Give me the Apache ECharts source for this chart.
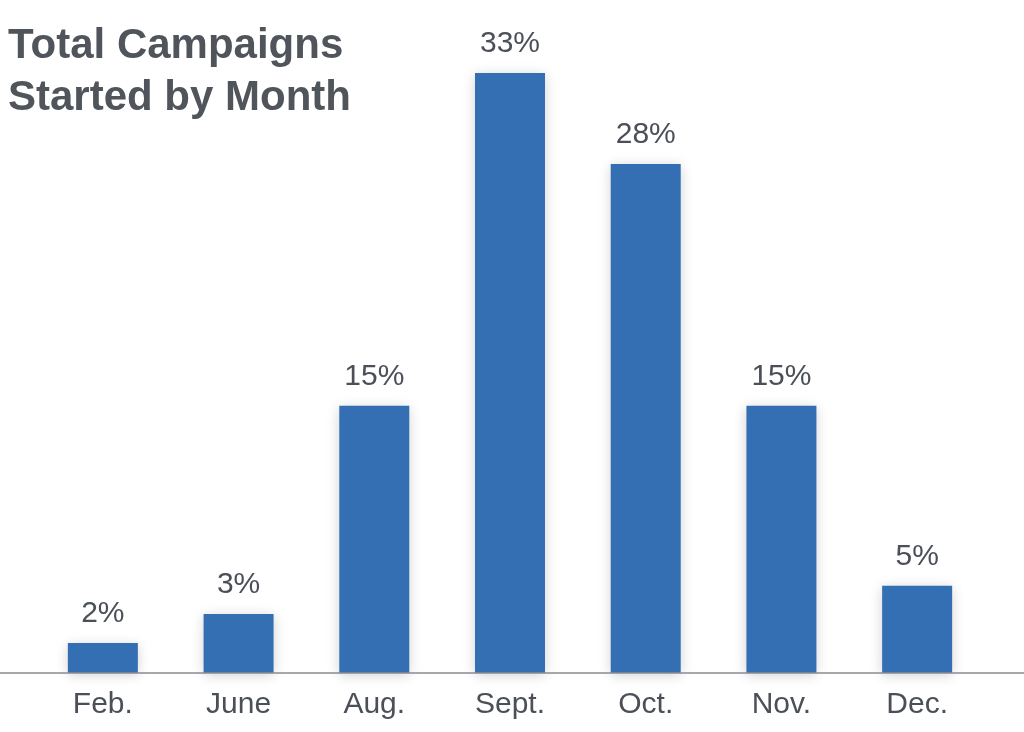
<!DOCTYPE html>
<html>
<head>
<meta charset="utf-8">
<script src="https://cdn.jsdelivr.net/npm/echarts@6/dist/echarts.min.js"></script>
<style>html,body{margin:0;padding:0;background:#fff}#c{width:1024px;height:732px}</style>
</head>
<body>
<div id="c"></div>
<script>
const titleText = 'Total Campaigns\nStarted by Month';
const months = ['Feb.', 'June', 'Aug.', 'Sept.', 'Oct.', 'Nov.', 'Dec.'];
const shares = [1.65, 3.25, 14.7, 33, 28, 14.7, 4.8];

const chart = echarts.init(document.getElementById('c'));
const textColor = '#4b5058';
chart.setOption({
  animation: false,
  backgroundColor: '#fff',
  title: {
    text: titleText,
    left: 8, top: 20, padding: 0,
    textStyle: { fontFamily: 'Liberation Sans', fontSize: 42, fontWeight: 'bold', color: '#50555c', lineHeight: 52 }
  },
  grid: { left: 35, right: 39, top: 36.6, bottom: 59 },
  xAxis: {
    type: 'category',
    data: months,
    axisLine: { show: false },
    axisTick: { show: false },
    axisLabel: { fontFamily: 'Liberation Sans', fontSize: 30, color: textColor, margin: 17 }
  },
  yAxis: {
    type: 'value', min: 0, max: 35,
    show: false, splitLine: { show: false }
  },
  series: [{
    type: 'bar',
    data: shares,
    barWidth: 70,
    itemStyle: { color: '#346fb3', shadowBlur: 12, shadowColor: 'rgba(0,0,0,0.18)', shadowOffsetY: 2 },
    label: {
      show: true, position: 'top', distance: 14,
      fontFamily: 'Liberation Sans', fontSize: 30, color: textColor,
      formatter: p => Math.round(p.value) + '%'
    },
    z: 2
  }]
});
const y0 = chart.convertToPixel({ yAxisIndex: 0 }, 0);
chart.setOption({
  graphic: [{
    type: 'line', z: 10,
    shape: { x1: 0, y1: y0, x2: chart.getWidth(), y2: y0 },
    style: { stroke: '#8a8a90', lineWidth: 1.5 }
  }]
});
</script>
</body>
</html>
